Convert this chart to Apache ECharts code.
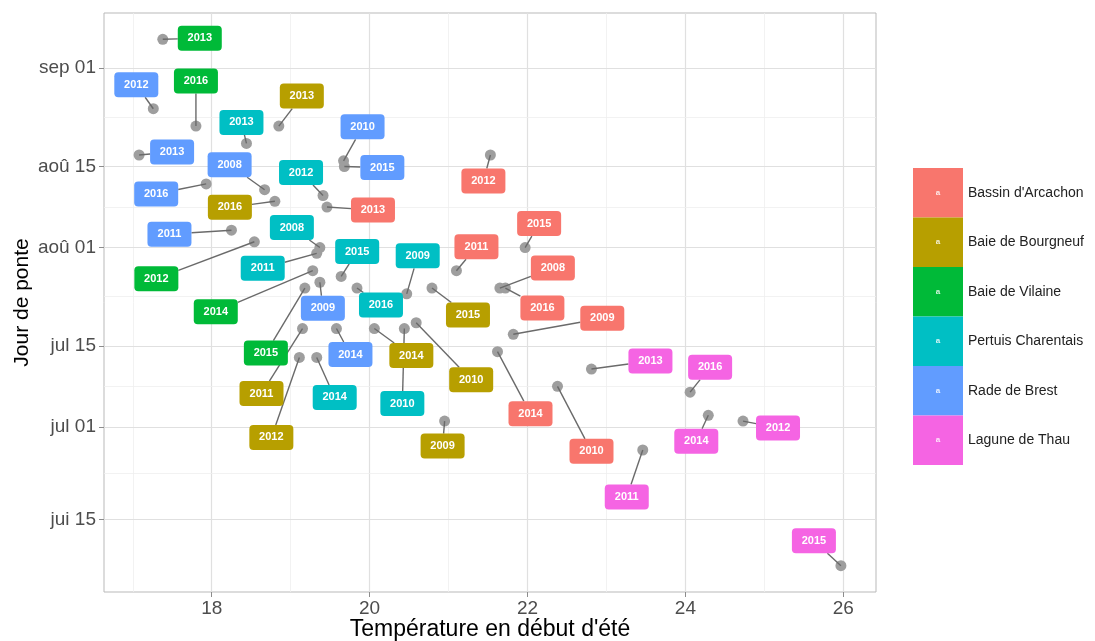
<!DOCTYPE html>
<html>
<head>
<meta charset="utf-8">
<script src="https://cdn.jsdelivr.net/npm/echarts@6/dist/echarts.min.js"></script>
<style>
html,body{margin:0;padding:0;background:#fff;}
#chart{width:1095px;height:641px;}
</style>
</head>
<body>
<div id="chart"></div>
<script>
// ---------- DATA ----------
const sites = ["Bassin d'Arcachon", "Baie de Bourgneuf", "Baie de Vilaine", "Pertuis Charentais", "Rade de Brest", "Lagune de Thau"];

const arcachonYears = [2008, 2009, 2010, 2011, 2012, 2013, 2014, 2015, 2016];
const arcachonTemp  = [21.65, 21.82, 22.38, 21.10, 21.53, 19.46, 21.62, 21.97, 21.72];
const arcachonDate  = ['07-25', '07-17', '07-08', '07-28', '08-17', '08-08', '07-14', '08-01', '07-25'];

const bourgneufYears = [2009, 2010, 2011, 2012, 2013, 2014, 2015, 2016];
const bourgneufTemp  = [20.95, 20.59, 19.15, 19.11, 18.85, 20.06, 20.79, 18.80];
const bourgneufDate  = ['07-02', '07-19', '07-18', '07-13', '08-22', '07-18', '07-25', '08-09'];

const vilaineYears = [2012, 2013, 2014, 2015, 2016];
const vilaineTemp  = [18.54, 17.38, 19.28, 19.18, 17.80];
const vilaineDate  = ['08-02', '09-06', '07-28', '07-25', '08-22'];

const charentaisYears = [2008, 2009, 2010, 2011, 2012, 2013, 2014, 2015, 2016];
const charentaisTemp  = [19.37, 20.47, 20.44, 19.33, 19.41, 18.44, 19.33, 19.64, 19.84];
const charentaisDate  = ['08-01', '07-24', '07-18', '07-31', '08-10', '08-19', '07-13', '07-27', '07-25'];

const brestYears = [2008, 2009, 2010, 2011, 2012, 2013, 2014, 2015, 2016];
const brestTemp  = [18.67, 19.37, 19.67, 18.25, 17.26, 17.08, 19.58, 19.68, 17.93];
const brestDate  = ['08-11', '07-26', '08-16', '08-04', '08-25', '08-17', '07-18', '08-15', '08-12'];

const thauYears = [2011, 2012, 2013, 2014, 2015, 2016];
const thauTemp  = [23.46, 24.73, 22.81, 24.29, 25.97, 24.06];
const thauDate  = ['06-27', '07-02', '07-11', '07-03', '06-07', '07-07'];

const xTickValues = [18, 20, 22, 24, 26];
const yTickDates  = ['06-15', '07-01', '07-15', '08-01', '08-15', '09-01'];
const yTickLabels = ['jui 15', 'jul 01', 'jul 15', 'aoû 01', 'aoû 15', 'sep 01'];

// ---------- LAYOUT / STYLE (label nudges in px, like ggrepel output) ----------
const siteColors = ['#F8766D', '#B79F00', '#00BA38', '#00BFC4', '#619CFF', '#F564E3'];
const arcachonNudge   = [[53,-20],[89,-16],[34,65],[20,-24],[-7,26],[46,3],[33,62],[14,-24],[37,20]];
const bourgneufNudge  = [[-2,25],[55,57],[-41,65],[-28,80],[23,-30],[37,27],[36,27],[-45,6]];
const vilaineNudge    = [[-98,37],[37,-1],[-97,41],[-39,65],[0,-45]];
const charentaisNudge = [[-28,-20],[11,-38],[-2,75],[-54,15],[-22,-23],[-5,-21],[18,40],[16,-25],[24,17]];
const brestNudge      = [[-35,-25],[3,26],[19,-34],[-62,4],[-17,-24],[33,-3],[14,26],[38,1],[-50,10]];
const thauNudge       = [[-16,47],[35,7],[59,-8],[-12,26],[-27,-25],[20,-25]];

const FONT = '"Liberation Sans", Arial, Helvetica, sans-serif';

// ---------- HELPERS ----------
const cumDays = [0, 31, 59, 90, 120, 151, 181, 212, 243, 273, 304, 334];
function doy(md) { const p = md.split('-').map(Number); return cumDays[p[0] - 1] + p[1]; }

const siteData = [
  [arcachonYears, arcachonTemp, arcachonDate, arcachonNudge],
  [bourgneufYears, bourgneufTemp, bourgneufDate, bourgneufNudge],
  [vilaineYears, vilaineTemp, vilaineDate, vilaineNudge],
  [charentaisYears, charentaisTemp, charentaisDate, charentaisNudge],
  [brestYears, brestTemp, brestDate, brestNudge],
  [thauYears, thauTemp, thauDate, thauNudge]
];

// ggplot-like 5% expansion of the data range
const allT = [].concat(...siteData.map(s => s[1]));
const allD = [].concat(...siteData.map(s => s[2].map(doy)));
const tMin = Math.min(...allT), tMax = Math.max(...allT);
const dMin = Math.min(...allD), dMax = Math.max(...allD);
const xMin = tMin - 0.05 * (tMax - tMin), xMax = tMax + 0.05 * (tMax - tMin);
const yMin = dMin - 0.05 * (dMax - dMin), yMax = dMax + 0.05 * (dMax - dMin);

const yTickDays = yTickDates.map(doy);
const xMinor = xTickValues.slice(0, -1).map((v, i) => (v + xTickValues[i + 1]) / 2).concat([xTickValues[0] - 1]);
const yMinor = yTickDays.slice(0, -1).map((v, i) => (v + yTickDays[i + 1]) / 2);

function siteSeries(i) {
  const [years, temps, dates, nudges] = siteData[i];
  const color = siteColors[i];
  return {
    type: 'custom',
    name: sites[i],
    coordinateSystem: 'cartesian2d',
    itemStyle: { color: color },
    encode: { x: 0, y: 1 },
    data: years.map((y, k) => [temps[k], doy(dates[k]), y]),
    renderItem: function (params, api) {
      const k = params.dataIndex;
      const p = api.coord([api.value(0), api.value(1)]);
      const cx = p[0] + nudges[k][0], cy = p[1] + nudges[k][1];
      const W = 44, H = 25;
      const vx = p[0] - cx, vy = p[1] - cy;
      const tx = vx !== 0 ? (W / 2) / Math.abs(vx) : Infinity;
      const ty = vy !== 0 ? (H / 2) / Math.abs(vy) : Infinity;
      const t = Math.min(tx, ty);
      const children = [
        { type: 'circle', shape: { cx: p[0], cy: p[1], r: 5.5 }, style: { fill: '#9e9e9e' }, z2: 1 }
      ];
      if (t < 1) {
        children.push({ type: 'line', shape: { x1: p[0], y1: p[1], x2: cx + vx * t, y2: cy + vy * t },
          style: { stroke: '#6a6a6a', lineWidth: 1.4 }, z2: 2 });
      }
      children.push({ type: 'rect', shape: { x: cx - W / 2, y: cy - H / 2, width: W, height: H, r: 4 },
        style: { fill: color }, z2: 3 });
      children.push({ type: 'text', x: cx, y: cy,
        style: { text: String(api.value(2)), fill: '#ffffff', font: 'bold 11px ' + FONT, align: 'center', verticalAlign: 'middle' }, z2: 4 });
      return { type: 'group', children: children };
    }
  };
}

const gridLineData = []
  .concat(xTickValues.map(v => ({ xAxis: v, lineStyle: { color: '#e0e0e0', width: 1.2, type: 'solid' } })))
  .concat(xMinor.map(v => ({ xAxis: v, lineStyle: { color: '#efefef', width: 0.8, type: 'solid' } })))
  .concat(yTickDays.map(v => ({ yAxis: v, lineStyle: { color: '#e0e0e0', width: 1.2, type: 'solid' } })))
  .concat(yMinor.map(v => ({ yAxis: v, lineStyle: { color: '#efefef', width: 0.8, type: 'solid' } })));

const chart = echarts.init(document.getElementById('chart'), null, { renderer: 'canvas' });
chart.setOption({
  animation: false,
  color: siteColors,
  textStyle: { fontFamily: FONT },
  grid: { left: 104, top: 13, width: 772, height: 579, show: true, borderColor: '#b9b9b9', borderWidth: 1,
          backgroundColor: 'transparent', outerBoundsMode: 'none', containLabel: false },
  xAxis: {
    type: 'value', min: xMin, max: xMax,
    axisLine: { show: false },
    splitLine: { show: false },
    axisTick: { show: true, customValues: xTickValues, length: 5, lineStyle: { color: '#8c8c8c' } },
    axisLabel: { customValues: xTickValues, fontSize: 19, color: '#4d4d4d', margin: 7, fontFamily: FONT },
    name: "Température en début d'été", nameLocation: 'middle', nameGap: 26, nameMoveOverlap: false,
    nameTextStyle: { fontSize: 23, color: '#000', fontFamily: FONT }
  },
  yAxis: {
    type: 'value', min: yMin, max: yMax,
    axisLine: { show: false },
    splitLine: { show: false },
    axisTick: { show: true, customValues: yTickDays, length: 5, lineStyle: { color: '#8c8c8c' } },
    axisLabel: { customValues: yTickDays, fontSize: 19, color: '#4d4d4d', margin: 8, fontFamily: FONT,
      formatter: v => { const i = yTickDays.indexOf(v); return i >= 0 ? yTickLabels[i] : ''; } },
    name: 'Jour de ponte', nameLocation: 'middle', nameGap: 71, nameRotate: 90, nameMoveOverlap: false,
    nameTextStyle: { fontSize: 21, color: '#000', fontFamily: FONT }
  },
  legend: {
    orient: 'vertical', left: 913, top: 168, padding: 0,
    itemWidth: 50, itemHeight: 49.5, itemGap: 0, icon: 'rect', selectedMode: false,
    data: sites,
    textStyle: { fontSize: 14, color: '#222', fontFamily: FONT }
  },
  graphic: sites.map((s, i) => ({
    type: 'text', x: 938, y: 168 + 49.5 * i + 24.75, z: 100,
    style: { text: 'a', fill: 'rgba(255,255,255,0.85)', font: 'bold 8px ' + FONT, align: 'center', verticalAlign: 'middle' }
  })),
  series: [
    { type: 'scatter', name: '_grid', data: [], silent: true,
      markLine: { silent: true, symbol: 'none', z: 0, animation: false, label: { show: false }, data: gridLineData } }
  ].concat(sites.map((s, i) => siteSeries(i)))
});
</script>
</body>
</html>
